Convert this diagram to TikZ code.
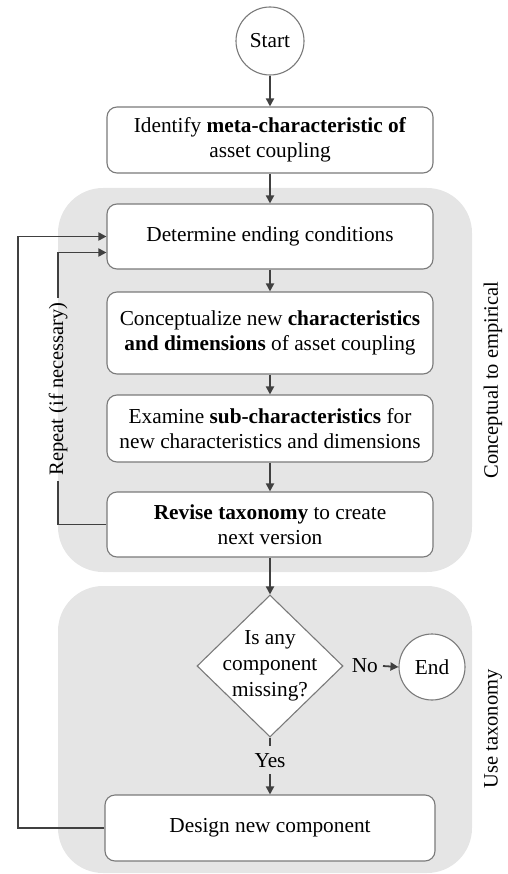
\documentclass[tikz,border=0pt]{standalone}
\usepackage{fontspec}
\setmainfont{Liberation Serif}
\usetikzlibrary{arrows.meta,shapes.geometric}
\definecolor{regionfill}{HTML}{E5E5E5}
\definecolor{boxline}{HTML}{7A7A7A}
\definecolor{flowline}{HTML}{404040}
\begin{document}
\begin{tikzpicture}[x=1pt,y=-1pt,
  every node/.style={font=\fontsize{21.3}{25.5}\selectfont, text=black},
  procbox/.style={draw=boxline, line width=1.1pt, fill=white, rounded corners=10pt,
    minimum width=326pt, align=center, inner sep=0pt},
  termcircle/.style={draw=boxline, line width=1.1pt, fill=white, circle, inner sep=0pt},
  decision/.style={draw=boxline, line width=1.1pt, fill=white, diamond, inner sep=0pt,
    minimum width=146pt, minimum height=142pt},
  flow/.style={draw=flowline, line width=1.8pt, -{Triangle[length=8pt,width=8pt]}},
  plainflow/.style={draw=flowline, line width=1.8pt},
  region/.style={fill=regionfill, rounded corners=45pt},
  sidelabel/.style={rotate=90, font=\fontsize{20.5}{25}\selectfont}
]
\useasboundingbox (0,0) rectangle (507,874);

% phase backgrounds
\fill[region] (58,188) rectangle (472,572);
\fill[region] (58,586) rectangle (472,873);

% nodes
\node[termcircle, minimum size=68pt] (start) at (270,41) {Start};
\node[procbox, minimum height=66pt] (identify) at (270,140)
  {Identify \textbf{meta-characteristic of}\\asset coupling};
\node[procbox, minimum height=65pt] (ending) at (270,236.5) {Determine ending conditions};
\node[procbox, minimum height=82pt] (concept) at (270,333)
  {Conceptualize new \textbf{characteristics}\\\textbf{and dimensions} of asset coupling};
\node[procbox, minimum height=67pt] (examine) at (270,428.5)
  {Examine \textbf{sub-characteristics} for\\new characteristics and dimensions};
\node[procbox, minimum height=65pt] (revise) at (270,524.5)
  {\textbf{Revise taxonomy} to create\\next version};
\node[decision, label={[align=center, font=\fontsize{21.3}{26}\selectfont]center:Is any\\component\\missing?}] (missing) at (270,666) {};
\node[termcircle, minimum size=66pt] (end) at (432,667) {End};
\node[procbox, minimum width=330pt, minimum height=66pt] (design) at (270,828)
  {Design new component};

% side labels
\node[sidelabel] (phaseA) at (493,380) {Conceptual to empirical};
\node[sidelabel] (phaseB) at (493,729) {Use taxonomy};

% main flow
\draw[flow] (start) -- (identify);
\draw[flow] (identify) -- (ending);
\draw[flow] (ending) -- (concept);
\draw[flow] (concept) -- (examine);
\draw[flow] (examine) -- (revise);
\draw[flow] (revise) -- (missing);
\draw[flow] (missing.south) -- node[pos=0.4, fill=regionfill, inner xsep=2pt, inner ysep=7pt] (yes) {Yes} (design.north);
\node[anchor=west, inner xsep=0pt] (no) at ([xshift=8pt]missing.east) {No};
\draw[flow] ([xshift=5pt]no.east) -- (end.west);

% outer feedback loop
\coordinate (outerx) at (18,500);
\draw[flow] (design.west) -| (outerx) |- (ending.west);

% inner repeat loop, broken by its label
\coordinate (repeatlow) at (58,481);
\coordinate (repeathigh) at (58,298);
\node[sidelabel] (repeat) at (58,389) {Repeat (if necessary)};
\draw[plainflow] (revise.west) -| (repeatlow);
\draw[flow] (repeathigh) |- ([yshift=-16pt]ending.west);
\end{tikzpicture}
\end{document}
